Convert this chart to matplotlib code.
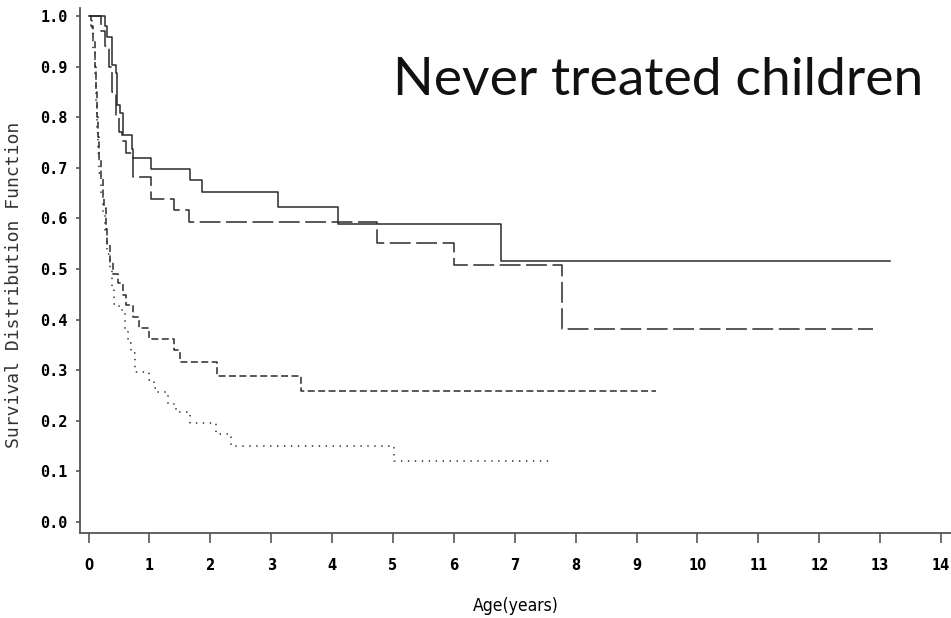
import matplotlib
matplotlib.use("Agg")
import matplotlib.pyplot as plt

# Kaplan-Meier step curves (age in years, survival)
solid_t = [0, 0.27, 0.31, 0.38, 0.45, 0.47, 0.52, 0.57, 0.71, 0.73, 1.03, 1.66, 1.87, 3.11, 4.10, 6.78, 13.17]
solid_s = [1.0, 0.981, 0.959, 0.903, 0.887, 0.824, 0.808, 0.765, 0.738, 0.719, 0.698, 0.675, 0.653, 0.622, 0.589, 0.516, 0.516]

long_t = [0, 0.2, 0.27, 0.33, 0.38, 0.45, 0.5, 0.55, 0.62, 0.73, 1.03, 1.40, 1.65, 4.74, 6.01, 7.77, 12.89]
long_s = [1.0, 0.97, 0.94, 0.90, 0.85, 0.80, 0.77, 0.752, 0.729, 0.682, 0.638, 0.617, 0.592, 0.552, 0.507, 0.381, 0.381]

short_t = [0, 0.04, 0.07, 0.1, 0.12, 0.14, 0.16, 0.18, 0.2, 0.23, 0.25, 0.28, 0.31, 0.35, 0.41,
           0.49, 0.56, 0.62, 0.73, 0.83, 0.99, 1.40, 1.50, 2.11, 3.49, 9.32]
short_s = [1.0, 0.98, 0.95, 0.9, 0.85, 0.8, 0.76, 0.72, 0.68, 0.64, 0.62, 0.58, 0.55, 0.514, 0.49,
           0.472, 0.449, 0.429, 0.406, 0.383, 0.362, 0.340, 0.317, 0.289, 0.259, 0.259]

dotted_t = [0, 0.05, 0.08, 0.1, 0.12, 0.14, 0.16, 0.18, 0.21, 0.24, 0.27, 0.3, 0.35, 0.38, 0.42,
            0.5, 0.6, 0.65, 0.7, 0.76, 1.0, 1.08, 1.12, 1.31, 1.44, 1.66, 2.10, 2.34, 5.02, 7.6]
dotted_s = [1.0, 0.97, 0.93, 0.88, 0.83, 0.78, 0.73, 0.69, 0.65, 0.61, 0.57, 0.53, 0.50, 0.46, 0.43,
            0.419, 0.38, 0.354, 0.334, 0.296, 0.28, 0.265, 0.256, 0.234, 0.218, 0.196, 0.173, 0.151, 0.121, 0.121]

x_ticks = list(range(0, 15))
y_ticks = [0.0, 0.1, 0.2, 0.3, 0.4, 0.5, 0.6, 0.7, 0.8, 0.9, 1.0]

plt.rcParams['lines.scale_dashes'] = False

fig = plt.figure(figsize=(9.51, 6.18), dpi=100)
ax = fig.add_axes([80 / 951, 85 / 618, 871 / 951, 525 / 618])

line_col = '#2b2b2b'
ax.step(solid_t, solid_s, where='post', color=line_col, lw=1.1)
ax.step(long_t, long_s, where='post', color=line_col, lw=1.1, dashes=(15, 4))
ax.step(short_t, short_s, where='post', color=line_col, lw=1.1, dashes=(5, 2.5))
ax.step(dotted_t, dotted_s, where='post', color=line_col, lw=1.1, dashes=(1, 4))

ax.set_xlim(-0.14, 14.164)
ax.set_ylim(-0.0217, 1.0158)

for side in ('top', 'right'):
    ax.spines[side].set_visible(False)
for side in ('left', 'bottom'):
    ax.spines[side].set_color('#555555')
    ax.spines[side].set_linewidth(1.3)

ax.set_xticks(x_ticks)
ax.set_xticklabels([str(v) for v in x_ticks],
                   fontdict=dict(family='DejaVu Sans', stretch='condensed', weight='bold', size=10.5))
ax.set_yticks(y_ticks)
ax.set_yticklabels([f"{v:.1f}" for v in y_ticks],
                   fontdict=dict(family='DejaVu Sans Mono', weight='bold', size=11))
ax.tick_params(axis='x', length=7, width=1.2, pad=11, color='#555555')
ax.tick_params(axis='y', length=3, width=1.2, pad=6, color='#555555')

ax.set_xlabel("Age(years)", family='DejaVu Sans', stretch='condensed', size=12.5, va='top')
ax.xaxis.set_label_coords(0.5, -0.121)
ax.set_ylabel("Survival Distribution Function", family='DejaVu Sans Mono', size=13, color='#333333')
ax.yaxis.set_label_coords(-0.0654, 0.472)

fig.text(923 / 951, 1 - 95 / 618, "Never treated children", family='Lato',
         size=38.5, ha='right', va='baseline', color='#111111')

fig.savefig("out.png", dpi=100)
